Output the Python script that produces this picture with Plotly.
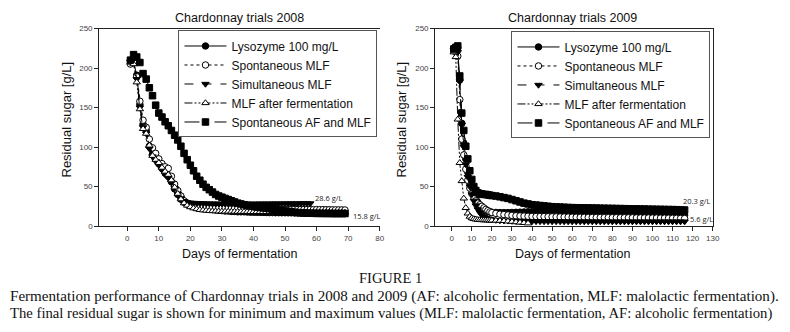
import plotly.graph_objects as go

# ---------------- data ----------------
series_names = ["Lysozyme 100 mg/L", "Spontaneous MLF", "Simultaneous MLF",
                "MLF after fermentation", "Spontaneous AF and MLF"]

# 2008 trials (days of fermentation)
days_08 = list(range(1, 70))
days_08_sim = list(range(1, 59))

lyso_08 = [209, 208, 191, 154, 129, 121, 101, 91, 85, 79, 73, 67, 63, 56, 47, 40, 34, 30, 27.5, 26,
           25, 24, 23, 22.5, 22, 21.5, 21, 20.5, 20, 19.5, 19, 19, 18.5, 18.5, 18, 18, 18, 17.8, 17.6, 17.5,
           17.4, 17.3, 17.2, 17.1, 17, 17, 16.9, 16.9, 16.8, 16.8, 16.7, 16.7, 16.6, 16.6, 16.5, 16.5,
           16.4, 16.4, 16.3, 16.3, 16.2, 16.2, 16.1, 16.1, 16, 16, 16, 15.9, 15.8]
spmlf_08 = [205, 207, 189, 158, 134, 125, 110, 99, 92, 85, 79, 75, 73, 63, 53, 45, 38, 32, 29, 27,
            26, 25, 24.5, 24, 23.5, 23.2, 23, 22.8, 22.6, 22.5,
            22.4, 22.3, 22.2, 22.1, 22, 22, 21.9, 21.9, 21.8, 21.8,
            21.7, 21.7, 21.6, 21.6, 21.5, 21.5, 21.4, 21.4, 21.3, 21.3,
            21.2, 21.2, 21.1, 21.1, 21, 21, 20.9, 20.9, 20.8, 20.8,
            20.7, 20.7, 20.6, 20.6, 20.5, 20.5, 20.4, 20.4, 20.3]
simmlf_08 = [208, 211, 186, 150, 125, 117, 98, 88, 82, 77, 71, 65, 61, 55, 48, 41, 35, 31.5, 30, 29.5,
             29.2, 29, 28.8, 28.6, 28.5,
             28.4, 28.3, 28.3, 28.2, 28.2, 28.2, 28.1, 28.1, 28.1, 28.1,
             28.1, 28.1, 28.2, 28.2, 28.2, 28.2, 28.3, 28.3, 28.3, 28.3,
             28.4, 28.4, 28.4, 28.4, 28.5, 28.5, 28.5, 28.5, 28.5, 28.6,
             28.6, 28.6, 28.6]
afmlf_08 = [207, 205, 182, 148, 123, 117, 102, 89, 84, 80, 74, 69, 65, 58, 49, 41, 34, 29, 26, 24,
            22.5, 21.5, 20.5, 20, 19.5, 19.2, 19, 18.8, 18.6, 18.5,
            18.4, 18.4, 18.3, 18.3, 18.2, 18.2, 18.1, 18.1, 18, 18,
            18, 17.9, 17.9, 17.9, 17.8, 17.8, 17.8, 17.7, 17.7, 17.7,
            17.6, 17.6, 17.6, 17.5, 17.5, 17.5, 17.5, 17.4, 17.4, 17.4,
            17.4, 17.3, 17.3, 17.3, 17.3, 17.2, 17.2, 17.2, 17.2]
spaf_08 = [210, 217, 214, 207, 193, 186, 175, 165, 153, 143, 138, 132, 127, 121, 115, 109, 101, 92, 84, 77,
           70, 63, 58, 53, 49, 46, 43, 40, 38, 36.5, 35, 33.5, 32, 30.5, 29, 28, 27, 26, 25.5, 25,
           24, 23.5, 23, 22.5, 22, 21, 20.5, 20, 19.5, 19, 18.5, 18, 17.5, 17, 16.8, 16.5, 16.3, 16.2,
           16.1, 16, 16, 15.9, 15.9, 15.9, 15.8, 15.8, 15.8, 15.8, 15.8]

# 2009 trials
days_09 = [1, 2, 3, 4, 5, 6, 7, 8, 9, 10, 11, 12, 13, 14, 15, 16, 17, 18, 19, 20,
           22, 24, 26, 28, 30, 32, 34, 36, 38, 40, 42, 44, 46, 48, 50, 52, 54, 56, 58, 60,
           62, 64, 66, 68, 70, 72, 74, 76, 78, 80, 82, 84, 86, 88, 90, 92, 94, 96, 98, 100,
           102, 104, 106, 108, 110, 112, 114, 116]
days_09_af = [1, 2, 3, 4, 5, 6, 7, 8, 9, 10, 11, 12, 13, 14, 15, 16, 17, 18, 19, 20,
              22, 24, 26, 28, 30, 32, 34, 36, 38]

lyso_09 = [225, 227, 226, 185, 130, 105, 85, 68, 55, 46, 40, 35, 30, 26, 23, 21, 19.5, 18.5, 18, 17.5,
           17.2, 17, 17, 17, 17.2, 17.4, 17.6, 17.8, 18, 18,
           18, 17.9, 17.8, 17.7, 17.6, 17.5, 17.4, 17.3, 17.2, 17.1,
           17, 16.9, 16.8, 16.7, 16.6, 16.5, 16.4, 16.3, 16.2, 16.1,
           16, 15.9, 15.8, 15.7, 15.6, 15.5, 15.4, 15.3, 15.2, 15.1,
           15, 14.9, 14.8, 14.6, 14.4, 14.2, 14, 13.8]
spmlf_09 = [222, 220, 215, 160, 110, 90, 72, 58, 48, 41, 36, 32, 29, 27, 25, 23, 21, 19.5, 18, 17,
            16, 15, 14.5, 14, 13.5, 13, 12.8, 12.6, 12.4, 12.2,
            12.1, 12, 11.9, 11.8, 11.7, 11.6, 11.5, 11.4, 11.3, 11.2,
            11.1, 11, 11, 10.9, 10.9, 10.8, 10.8, 10.7, 10.7, 10.6,
            10.6, 10.5, 10.5, 10.4, 10.4, 10.3, 10.3, 10.2, 10.2, 10.1,
            10.1, 10, 10, 9.9, 9.8, 9.7, 9.6, 9.5]
simmlf_09 = [223, 225, 220, 183, 128, 100, 78, 62, 50, 40, 32, 26, 21, 17, 14, 12, 10.5, 9.5, 8.8, 8.2,
             7.5, 7, 6.8, 6.6, 6.4, 6.2, 6.1, 6, 6, 5.9,
             5.9, 5.9, 5.8, 5.8, 5.8, 5.8, 5.8, 5.7, 5.7, 5.7,
             5.7, 5.7, 5.7, 5.7, 5.7, 5.6, 5.6, 5.6, 5.6, 5.6,
             5.6, 5.6, 5.6, 5.6, 5.6, 5.6, 5.6, 5.6, 5.6, 5.6,
             5.6, 5.6, 5.6, 5.6, 5.6, 5.6, 5.6, 5.6]
afmlf_09 = [220, 214, 135, 80, 57, 35, 23, 16, 12, 10, 9, 8.5, 8, 7.8, 7.6, 7.5, 7.4, 7.3, 7.2, 7.1,
            7, 6.8, 6.5, 6, 5.5, 5, 4.5, 4, 3.5]
spaf_09 = [224, 226, 228, 190, 143, 121, 101, 85, 70, 59, 50, 45, 42, 41, 40.5, 40, 40, 39.5, 39, 38.5,
           38, 37, 36, 35, 33.5, 32, 30.5, 29, 28, 27,
           26.5, 26, 25.5, 25, 24.5, 24.2, 24, 23.8, 23.5, 23.3,
           23.2, 23.1, 23, 22.9, 22.8, 22.7, 22.6, 22.5, 22.4, 22.3,
           22.2, 22.1, 22, 21.9, 21.8, 21.7, 21.6, 21.5, 21.4, 21.3,
           21.2, 21.1, 21, 20.9, 20.8, 20.7, 20.5, 20.3]

x_ticks_08 = [0, 10, 20, 30, 40, 50, 60, 70, 80]
x_ticks_09 = [0, 10, 20, 30, 40, 50, 60, 70, 80, 90, 100, 110, 120, 130]
y_ticks = [0, 50, 100, 150, 200, 250]

# ---------------- styles ----------------
styles = [
    dict(symbol="circle", fill="black", dash="solid"),
    dict(symbol="circle", fill="white", dash="dot"),
    dict(symbol="triangle-down", fill="black", dash="dash"),
    dict(symbol="triangle-up", fill="white", dash="8px,2px,2px,2px,2px,2px"),
    dict(symbol="square", fill="black", dash="longdash"),
]

fig = go.Figure()

panel08 = [(days_08, lyso_08), (days_08, spmlf_08), (days_08_sim, simmlf_08),
           (days_08, afmlf_08), (days_08, spaf_08)]
panel09 = [(days_09, lyso_09), (days_09, spmlf_09), (days_09, simmlf_09),
           (days_09_af, afmlf_09), (days_09, spaf_09)]

for i, (xs, ys) in enumerate(panel08):
    st = styles[i]
    fig.add_trace(go.Scatter(
        x=xs, y=ys, name=series_names[i], mode="lines+markers",
        line=dict(color="black", width=1, dash=st["dash"]),
        marker=dict(symbol=st["symbol"], size=6.5, color=st["fill"],
                    line=dict(color="black", width=1)),
        xaxis="x", yaxis="y", legend="legend"))

for i, (xs, ys) in enumerate(panel09):
    st = styles[i]
    fig.add_trace(go.Scatter(
        x=xs, y=ys, name=series_names[i], mode="lines+markers",
        line=dict(color="black", width=1, dash=st["dash"]),
        marker=dict(symbol=st["symbol"], size=6.5, color=st["fill"],
                    line=dict(color="black", width=1)),
        xaxis="x2", yaxis="y2", legend="legend2"))

# page body adds an 8px margin; positions below are given in page pixels
W, H, OFF = 790, 332, 8
def px(v):
    return (v - OFF) / W
def py(v):
    return 1 - (v - OFF) / H

axis_common = dict(showgrid=False, zeroline=False, showline=True, linecolor="#222",
                   linewidth=1, ticks="outside", ticklen=4, tickcolor="#222",
                   tickfont=dict(family="Liberation Sans, Arial", size=8, color="#444"))

ydom = [py(228), py(25)]
legend_common = dict(bgcolor="white", bordercolor="#555", borderwidth=1,
                     font=dict(family="Liberation Sans, Arial", size=12, color="#111"),
                     xanchor="left", yanchor="top", tracegroupgap=0, itemwidth=42)

fig.update_layout(
    width=W, height=H, margin=dict(l=0, r=0, t=0, b=0),
    paper_bgcolor="white", plot_bgcolor="white",
    font=dict(family="Liberation Sans, Arial", color="#111"),
    xaxis=dict(domain=[px(100), px(383)], range=[-8.9, 80], tickvals=x_ticks_08,
               anchor="y", mirror=True, **axis_common),
    yaxis=dict(domain=ydom, range=[0, 250], tickvals=y_ticks, anchor="x", **axis_common),
    xaxis2=dict(domain=[px(439), px(719)], range=[-8.25, 130], tickvals=x_ticks_09,
                anchor="y2", mirror=True, **axis_common),
    yaxis2=dict(domain=ydom, range=[0, 250], tickvals=y_ticks, anchor="x2", mirror=True,
                **axis_common),
    legend=dict(x=px(180), y=py(27), **legend_common),
    legend2=dict(x=px(516), y=py(28), **legend_common),
    showlegend=True,
)

ann = []
title_font = dict(family="Liberation Sans, Arial", size=12.5, color="#111")
ann.append(dict(text="Chardonnay trials 2008", x=px(242), y=py(14), xref="paper", yref="paper",
                showarrow=False, font=title_font, xanchor="center", yanchor="middle"))
ann.append(dict(text="Chardonnay trials 2009", x=px(578), y=py(14), xref="paper", yref="paper",
                showarrow=False, font=title_font, xanchor="center", yanchor="middle"))
for xx in (67, 405):
    ann.append(dict(text="Residual sugar [g/L]", x=px(xx), y=py(118), xref="paper", yref="paper",
                    showarrow=False, textangle=-90, font=dict(title_font, size=13),
                    xanchor="center", yanchor="middle"))
for xx in (242, 578):
    ann.append(dict(text="Days of fermentation", x=px(xx), y=py(257), xref="paper", yref="paper",
                    showarrow=False, font=title_font, xanchor="center", yanchor="middle"))

lab_font = dict(family="Open Sans, Liberation Sans", size=7.5, color="#222")
ann.append(dict(text="28.6 g/L", x=59, y=35, xref="x", yref="y", showarrow=False,
                font=lab_font, xanchor="left"))
ann.append(dict(text="15.8 g/L", x=70.9, y=12.7, xref="x", yref="y", showarrow=False,
                font=lab_font, xanchor="left"))
ann.append(dict(text="20.3 g/L", x=114.2, y=32, xref="x2", yref="y2", showarrow=False,
                font=lab_font, xanchor="left"))
ann.append(dict(text="5.6 g/L", x=117.6, y=9.5, xref="x2", yref="y2", showarrow=False,
                font=lab_font, xanchor="left"))

cap_font = dict(family="Liberation Serif, Times New Roman", size=15.1, color="#111")
ann.append(dict(text="FIGURE 1", x=px(394), y=py(281), xref="paper", yref="paper",
                showarrow=False, font=dict(cap_font, size=14.5), xanchor="center", yanchor="middle"))
ann.append(dict(text="Fermentation performance of Chardonnay trials in 2008 and 2009 (AF: alcoholic fermentation, MLF: malolactic fermentation).",
                x=0, y=py(300), xref="paper", yref="paper", showarrow=False, font=cap_font,
                xanchor="left", yanchor="middle"))
ann.append(dict(text="The final residual sugar is shown for minimum and maximum values (MLF: malolactic fermentation, AF: alcoholic fermentation)",
                x=0, y=py(318), xref="paper", yref="paper", showarrow=False,
                font=dict(cap_font, size=14.7), xanchor="left", yanchor="middle"))
fig.update_layout(annotations=ann)

fig.write_html("out.html")
